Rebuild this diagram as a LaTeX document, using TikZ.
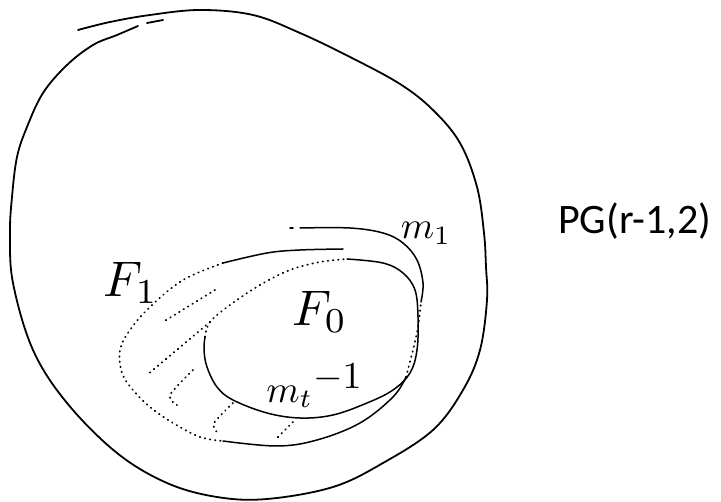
\documentclass[tikz,border=0pt]{standalone}
\usepackage{graphicx}
\usepackage{fontspec}
\newfontfamily\calib{Carlito}
\begin{document}
\begin{tikzpicture}[x=1pt,y=-1pt,
  solidln/.style={line width=1.8pt,line cap=round,line join=round},
  thinln/.style={line width=1.5pt,line cap=round,line join=round},
  dotln/.style={line width=1.8pt,dash pattern=on 0.6pt off 4.6pt,line cap=round},
  hand/.style={inner sep=0pt}]
\useasboundingbox (0,0) rectangle (721,502);
% outer blob
\draw[solidln] plot[smooth,tension=0.6] coordinates {(78,30) (110,22) (150,15) (200,10) (253,15) (300,33) (350,57) (400,84) (433,110) (460,143) (477,187) (484,233) (486,267) (487,300) (480,350) (463,390) (433,430) (383,463) (333,487) (267,499) (217,497) (167,483) (117,453) (67,403) (33,350) (13,283) (10,233) (12,197) (17,157) (27,127) (43,93) (67,65) (93,45) (117,35) (138,26)};
\draw[solidln] (147,23) -- (163,20);
% m1 curve
\draw[thinln] (290,228) -- (293,228);
\draw[thinln] plot[smooth,tension=0.6] coordinates {(300,228) (350,228) (383,233) (403,243) (417,260) (423,283) (421,302)};
% F1 outer ellipse: solid top, dotted left, solid bottom, dotted right
\draw[thinln] plot[smooth,tension=0.6] coordinates {(223,263) (267,253) (300,250) (343,249)};
\draw[dotln] plot[smooth,tension=0.6] coordinates {(223,263) (183,280) (150,307) (130,330) (120,350) (122,373) (133,390) (150,407) (173,423) (200,437) (223,441)};
\draw[thinln] plot[smooth,tension=0.6] coordinates {(223,441) (277,446) (317,440) (360,423) (393,397) (406,377)};
\draw[dotln] plot[smooth,tension=0.6] coordinates {(406,377) (413,350) (418,327) (421,302)};
% F0 inner ellipse
\draw[thinln] plot[smooth,tension=0.6] coordinates {(347,259) (383,263) (403,273) (415,290) (418,317) (417,350) (410,373) (393,390) (367,403) (333,415) (300,418) (267,413) (233,400) (217,387) (207,367) (204,350) (205,337)};
\draw[dotln] plot[smooth,tension=0.6] coordinates {(205,337) (210,322) (230,305) (260,285) (290,270) (320,262) (347,259)};
% hatching
\draw[dotln] (215,290) -- (163,322);
\draw[dotln] (210,322) -- (147,375);
\draw[dotln] plot[smooth] coordinates {(193,370) (170,395) (177,405)};
\draw[dotln] plot[smooth] coordinates {(233,403) (214,423) (217,432)};
\draw[dotln] (293,422) -- (277,438);
% labels
\node[hand] (f1) at (131,283) {\scalebox{5.0}{$F_1$}};
\node[hand] (f0) at (320,312) {\scalebox{5.0}{$F_0$}};
\node[hand] (m1) at (426,233) {\scalebox{3.8}{$m_1$}};
\node[hand] (mt) at (314,386) {\scalebox{3.8}{$m_t\raisebox{0.35em}{$-1$}$}};
\node[anchor=west,inner sep=0pt,font=\calib\fontsize{42}{50}\selectfont] (pg) at (558,221) {PG(r-1,2)};
\end{tikzpicture}
\end{document}
